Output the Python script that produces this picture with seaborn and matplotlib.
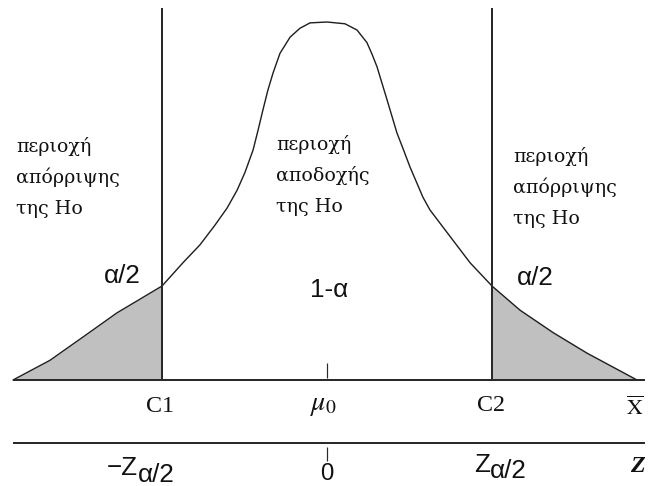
import matplotlib
matplotlib.use("Agg")
import matplotlib.pyplot as plt
import seaborn as sns
import pandas as pd

# ---- data ----
curve_z = [-1.903, -1.679, -1.479, -1.273, -1.0, -0.873, -0.770, -0.679, -0.606,
           -0.545, -0.497, -0.448, -0.418, -0.388, -0.358, -0.327, -0.285, -0.224,
           -0.164, -0.103, 0.0, 0.109, 0.182, 0.242, 0.273, 0.303, 0.364, 0.424,
           0.464, 0.503, 0.582, 0.624, 0.764, 0.867, 1.0, 1.170, 1.370, 1.576, 1.879]
curve_y = [0.0, 0.022, 0.048, 0.075, 0.105, 0.131, 0.151, 0.173, 0.192,
           0.212, 0.232, 0.257, 0.279, 0.302, 0.324, 0.343, 0.365, 0.383,
           0.393, 0.399, 0.400, 0.398, 0.391, 0.377, 0.364, 0.350, 0.313, 0.276,
           0.257, 0.238, 0.204, 0.190, 0.156, 0.131, 0.105, 0.078, 0.053, 0.030, 0.0]
critical = [-1.0, 1.0]          # C1, C2
center = [0.0]                  # mu0
axis_ends = [-1.903, 1.927]
top_labels = ["C1", r"$\mu_0$", "C2"]
z_labels = ["−Z", "0", "Z"]
region_left = ["περιοχή", "απόρριψης", "της Ho"]
region_mid = ["περιοχή", "αποδοχής", "της Ho"]
region_right = ["περιοχή", "απόρριψης", "της Ho"]

W, H = 648, 486
sns.set_style("white")
plt.rcParams["mathtext.fontset"] = "custom"
plt.rcParams["mathtext.rm"] = "Liberation Sans"
plt.rcParams["mathtext.it"] = "Liberation Sans:italic"

fig = plt.figure(figsize=(W / 72, H / 72), dpi=72)
ax = fig.add_axes([0, 0, 1, 1])
# pixel frame: mu0 at px 327, one unit = 165 px; y: 0 at px 380, peak(0.4) at px 22
ppu_x, ppu_y = 165.0, 358.0 / 0.4
ax.set_xlim(-327 / ppu_x, (W - 327) / ppu_x)
ax.set_ylim(-(H - 380) / ppu_y, 380 / ppu_y)
ax.axis("off")

df = pd.DataFrame({"z": curve_z, "y": curve_y})
sns.lineplot(data=df, x="z", y="y", ax=ax, color="#1e1e1e", lw=1.4,
             estimator=None, sort=False)

left = df[df.z <= critical[0]]
right = df[df.z >= critical[1]]
ax.fill_between(left.z, 0, left.y, color="#c0c0c0", lw=0)
ax.fill_between(right.z, 0, right.y, color="#c0c0c0", lw=0)

ax.vlines(critical, 0, 372 / ppu_y, color="#2a2a2a", lw=2)
ax.plot(axis_ends, [0, 0], color="#2a2a2a", lw=2, solid_capstyle="butt")
zy = -63 / ppu_y
ax.plot(axis_ends, [zy, zy], color="#2a2a2a", lw=2, solid_capstyle="butt")
ax.vlines(center, 2 / ppu_y, 17 / ppu_y, color="#2a2a2a", lw=1.2)
ax.vlines(center, zy - 4 / ppu_y, zy - 18 / ppu_y, color="#2a2a2a", lw=1.2)


def P(x, y):
    return (x / W, 1 - y / H)


def txt(x, y, s, **kw):
    ax.text(*P(x, y), s, transform=ax.transAxes, **kw)


greek = dict(family="DejaVu Serif", fontsize=19, color="#111111", va="baseline")
serif = dict(family="Liberation Serif", fontsize=24, color="#111111", va="baseline")
sans = dict(family="Liberation Sans", fontsize=26, color="#111111", va="baseline")

for i, s in enumerate(region_left):
    txt(16, 152 + 31 * i, s, ha="left", **greek)
for i, s in enumerate(region_mid):
    txt(276, 150 + 31 * i, s, ha="left", **greek)
for i, s in enumerate(region_right):
    txt(513, 162 + 31 * i, s, ha="left", **greek)

txt(122, 283, "α/2", ha="center", **sans)
txt(535, 285, "α/2", ha="center", **sans)
txt(329, 297, "1-α", ha="center", **sans)

txt(160, 412, top_labels[0], ha="center", **serif)
ax.text(*P(324, 410), top_labels[1], transform=ax.transAxes, ha="center",
        va="baseline", fontsize=28, math_fontfamily="stix", color="#111111")
txt(491, 411, top_labels[2], ha="center", **serif)
ax.text(*P(635, 415), r"$\overline{\mathrm{X}}$", transform=ax.transAxes,
        ha="center", va="baseline", fontsize=22, math_fontfamily="stix",
        color="#111111")

# z scale labels
txt(138, 475, z_labels[0], ha="right", **sans)
txt(138, 482, "α/2", ha="left", **sans)
txt(327, 480, z_labels[1], ha="center", family="Liberation Sans", fontsize=24,
    color="#111111", va="baseline")
txt(490, 472, z_labels[2], ha="right", **sans)
txt(490, 478, "α/2", ha="left", **sans)
txt(637, 472, "Z", ha="center", family="Liberation Serif", fontsize=24,
    fontweight="bold", fontstyle="italic", va="baseline", color="#111111")

fig.savefig("out.png", dpi=72, facecolor="white")
